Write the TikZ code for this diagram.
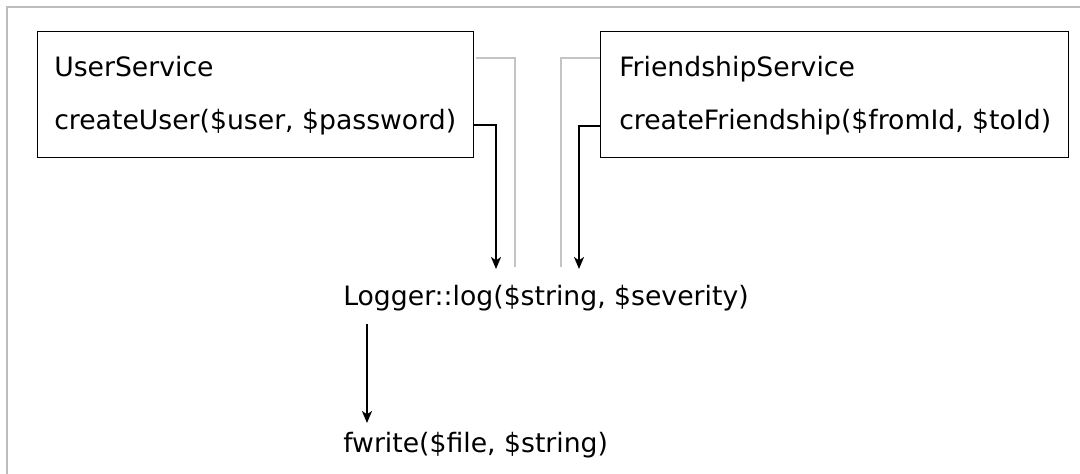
\documentclass[tikz,border=0pt]{standalone}
\usepackage{fontspec}
\setmainfont{DejaVu Sans}
\usetikzlibrary{arrows.meta}
\definecolor{framegray}{HTML}{BDBDBD}
\definecolor{linkgray}{HTML}{C4C4C4}
\tikzset{
  label text/.style={anchor=base west, inner sep=0pt, font=\fontsize{20}{24}\selectfont},
  service/.style={draw=black, line width=1.1pt, anchor=north west, inner sep=0pt},
  call/.style={draw=black, line width=1.5pt, -{Stealth[length=9pt,width=7.5pt,inset=2.5pt]}},
  link/.style={draw=linkgray, line width=1.5pt},
  frame/.style={draw=framegray, line width=1.5pt}
}
\begin{document}
\begin{tikzpicture}[x=0.75pt, y=-0.75pt]
  \useasboundingbox (0,0) rectangle (1080,474);
  \fill[white] (0,0) rectangle (1080,474);

  % outer frame: top and left edges
  \draw[frame] (6.5,474) |- (1080,7.5);

  % service boxes
  \node[service, minimum width=436*0.75pt, minimum height=126*0.75pt] (us) at (37,31) {};
  \node[service, minimum width=468*0.75pt, minimum height=126*0.75pt] (fs) at (600,31) {};

  % box contents
  \node[label text] (usName)   at (54,77)  {UserService};
  \node[label text] (usCreate) at (54,130) {createUser(\$user, \$password)};
  \node[label text] (fsName)   at (619,77)  {FriendshipService};
  \node[label text] (fsCreate) at (619,130) {createFriendship(\$fromId, \$toId)};

  % called functions
  \node[label text] (log) at (343,305) {Logger::log(\$string, \$severity)};
  \node[label text] (fw)  at (343,452) {fwrite(\$file, \$string)};

  % free ends of the connectors above the logger call
  \coordinate (usTip)  at (496,269);
  \coordinate (usEnd)  at (515,267);
  \coordinate (fsEnd)  at (561,267);
  \coordinate (fsTip)  at (579,269);
  \coordinate (logOut) at (367,324);
  \coordinate (fwTip)  at (367,423);

  % grey links
  \draw[link] (us.north east) ++(2,27.5) -| (usEnd);
  \draw[link] (fs.north west) ++(0,27.5) -| (fsEnd);

  % calls into the logger
  \draw[call] (us.north east) ++(0,94) -| (usTip);
  \draw[call] (fs.north west) ++(0,95) -| (fsTip);

  % logger writes to file
  \draw[call] (logOut) -- (fwTip);
\end{tikzpicture}
\end{document}
